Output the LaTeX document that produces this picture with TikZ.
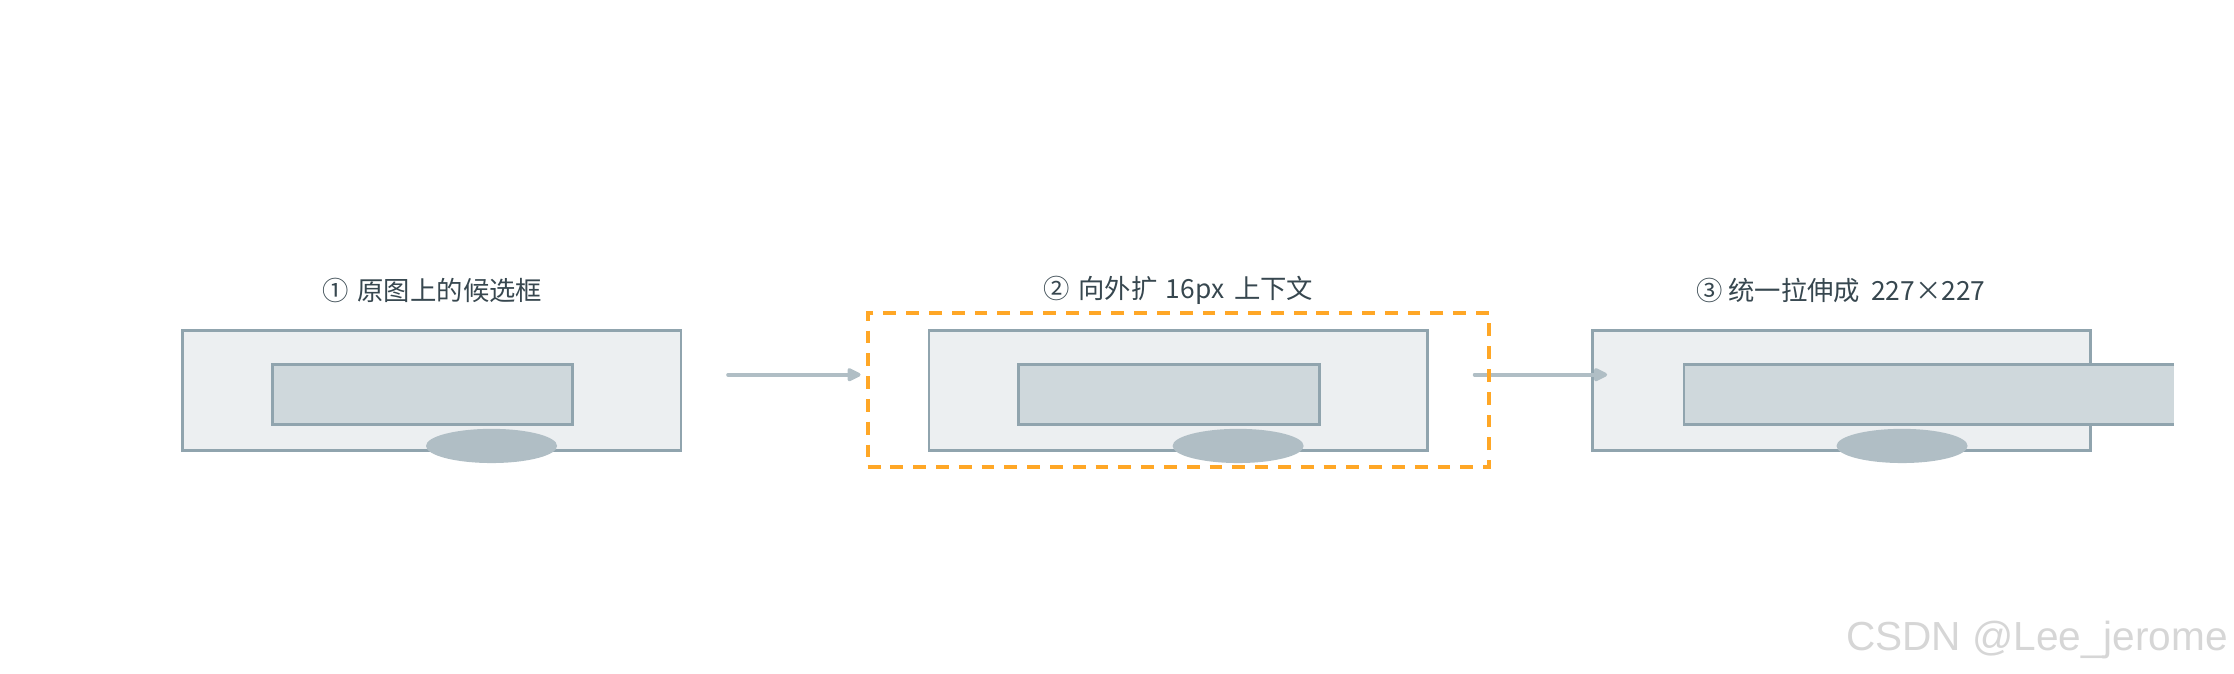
\documentclass[tikz,border=0pt]{standalone}
\usepackage{fontspec}
\setmainfont{Noto Sans CJK SC}
\newfontfamily\wmfont{Liberation Sans}
\usetikzlibrary{arrows.meta,shapes.geometric}
\definecolor{outerfill}{HTML}{ECEFF1}
\definecolor{boxline}{HTML}{90A4AE}
\definecolor{innerfill}{HTML}{CFD8DC}
\definecolor{blobfill}{HTML}{B0BEC5}
\definecolor{arrowcol}{HTML}{B0BEC5}
\definecolor{ctxorange}{HTML}{FFA726}
\definecolor{titlecol}{HTML}{37474F}
\definecolor{wmcol}{HTML}{D6D6D6}
\tikzset{
  outerbox/.style={draw=boxline, fill=outerfill, line width=2pt, minimum width=350pt, minimum height=84pt, inner sep=0pt, outer sep=0pt},
  innerbox/.style={draw=boxline, fill=innerfill, line width=2pt, minimum width=211pt, minimum height=42pt, inner sep=0pt, outer sep=0pt},
  blob/.style={ellipse, fill=blobfill, minimum width=92pt, minimum height=24pt, inner sep=0pt, outer sep=0pt},
  title/.style={text=titlecol, font=\fontsize{18.5}{21}\selectfont, inner sep=0pt},
  flowarrow/.style={draw=arrowcol, line width=2.6pt, line cap=round, -{Triangle[length=11pt,width=10pt,round]}},
  ctxbox/.style={draw=ctxorange, line width=2.8pt, dash pattern=on 9pt off 7pt, minimum width=436pt, minimum height=108pt, inner sep=0pt, outer sep=0pt},
}
\begin{document}
\begin{tikzpicture}[x=1pt,y=-1pt]
\useasboundingbox (0,0) rectangle (1568,473);
% stage 1
\node[title] (t1) at (303.5,204) {①\hspace{0.1em} 原图上的候选框};
\node[outerbox] (o1) at (303,274) {};
\node[innerbox] (i1) at (296.5,277) {};
\node[blob] (e1) at (345,313) {};
% stage 2
\node[title] (t2) at (827,204) {②\hspace{0.1em} 向外扩\hspace{0.1em} 16px\hspace{0.15em} 上下文};
\node[outerbox] (o2) at (827,274) {};
\node[innerbox] (i2) at (820.5,277) {};
\node[blob] (e2) at (869,313) {};
% stage 3
\node[title] (t3) at (1292,204) {③ 统一拉伸成\hspace{0.2em} 227×227};
\node[outerbox, minimum width=349pt] (o3) at (1292.5,274) {};
\node[fill=innerfill, minimum width=344pt, minimum height=42pt, inner sep=0pt, outer sep=0pt] (i3) at (1354,277) {};
\draw[boxline, line width=2pt] (i3.north east) -- (i3.north west) -- (i3.south west) -- (i3.south east);
\node[blob] (e3) at (1335,313) {};
% arrows
\coordinate (a1s) at (511,263);
\coordinate (a1e) at (604,263);
\coordinate (a2s) at (1035,263);
\coordinate (a2e) at (1128,263);
\draw[flowarrow] (a1s) -- (a1e);
\draw[flowarrow] (a2s) -- (a2e);
% context box
\node[ctxbox] (ctx) at (827,274) {};
% watermark
\node[text=wmcol, font=\wmfont\fontsize{28.5}{31}\selectfont, anchor=east, inner sep=0pt] (wm) at (1564,449) {CSDN @Lee\_jerome};
\end{tikzpicture}
\end{document}
